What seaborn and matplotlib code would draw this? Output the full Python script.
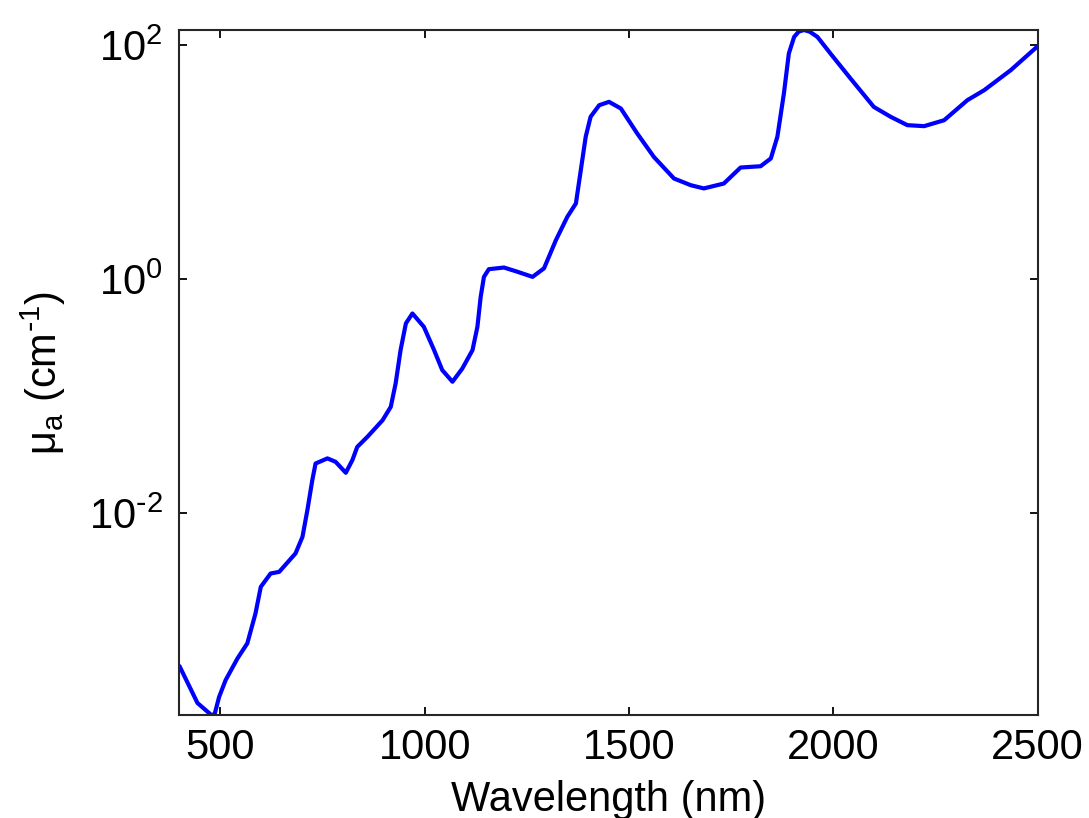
import numpy as np
import pandas as pd
import matplotlib
matplotlib.use("Agg")
import matplotlib.pyplot as plt
import seaborn as sns

# Water absorption coefficient
wavelength_nm = [400, 444, 478, 486, 497, 513, 542, 566, 586, 599, 623, 644, 684, 701,
                 713, 725, 733, 762, 782, 807, 823, 835, 860, 897, 917, 929, 941, 954,
                 970, 998, 1023, 1043, 1068, 1092, 1117, 1129, 1137, 1145, 1157, 1194,
                 1227, 1264, 1292, 1321, 1349, 1370, 1382, 1394, 1406, 1427, 1451, 1480,
                 1520, 1561, 1610, 1651, 1683, 1732, 1773, 1822, 1847, 1863, 1879, 1891,
                 1904, 1915, 1928, 1942, 1961, 1993, 2042, 2099, 2140, 2181, 2222, 2271,
                 2328, 2369, 2434, 2500]
mu_a = [4.90e-4, 2.37e-4, 1.87e-4, 1.90e-4, 2.67e-4, 3.72e-4, 5.70e-4, 7.66e-4, 1.38e-3,
        2.33e-3, 3.03e-3, 3.13e-3, 4.50e-3, 6.24e-3, 1.055e-2, 1.90e-2, 2.64e-2, 2.92e-2,
        2.73e-2, 2.20e-2, 2.82e-2, 3.66e-2, 4.47e-2, 6.19e-2, 8.05e-2, 0.128, 0.246, 0.416,
        0.506, 0.389, 0.246, 0.166, 0.132, 0.171, 0.246, 0.389, 0.701, 1.04, 1.21, 1.25,
        1.15, 1.04, 1.23, 2.14, 3.39, 4.41, 8.49, 16.4, 24.3, 30.5, 32.6, 28.6, 17.5, 11.0,
        7.21, 6.32, 5.93, 6.53, 8.95, 9.18, 10.7, 16.4, 38.5, 84.3,
        117, 129.8, 134, 129.8, 117, 84.3, 51.6, 29.5, 24.3, 20.6, 20.2, 22.7,
        33.7, 41.0, 60.8, 97.5]

x_ticks = [500, 1000, 1500, 2000, 2500]
y_ticks = [1e-2, 1e0, 1e2]
y_tick_labels = ["10$^{\\text{-}2}$", "10$^{0}$", "10$^{2}$"]

df = pd.DataFrame({"Wavelength": wavelength_nm, "mu_a": mu_a})

sns.set_style("ticks")
plt.rcParams["font.family"] = ["Liberation Sans", "DejaVu Sans"]
plt.rcParams["mathtext.default"] = "regular"
plt.rcParams["axes.unicode_minus"] = False
plt.rcParams["text.color"] = "black"
plt.rcParams["axes.labelcolor"] = "black"

fig = plt.figure(figsize=(10.89, 8.18), dpi=100)
ax = fig.add_axes([0.1648, 0.1259, 0.9529 - 0.1648, 0.9633 - 0.1259])

sns.lineplot(data=df, x="Wavelength", y="mu_a", ax=ax, color=(0, 0, 1),
             linewidth=3.0, estimator=None, solid_joinstyle="round",
             solid_capstyle="round")

ax.set_yscale("log")
ax.set_xlim(400, 2500)
ax.set_ylim(min(mu_a), max(mu_a))
ax.set_xticks(x_ticks)
ax.set_yticks(y_ticks)
ax.set_yticklabels(y_tick_labels)
ax.yaxis.set_minor_locator(matplotlib.ticker.NullLocator())
ax.xaxis.set_minor_locator(matplotlib.ticker.NullLocator())

ax.tick_params(axis="both", which="major", direction="in", length=6, width=1.3,
               top=True, right=True, labelsize=30, colors="black")
ax.tick_params(axis="x", pad=9)
ax.tick_params(axis="y", pad=12)
for s in ax.spines.values():
    s.set_visible(True)
    s.set_linewidth(1.5)
    s.set_color("#262626")

ax.set_xlabel("Wavelength (nm)", fontsize=30, color="black")
ax.set_ylabel("μ$_a$ (cm$^{\\text{-}1}$)", fontsize=30, color="black")
ax.xaxis.set_label_coords(0.5, -0.095)
ax.yaxis.set_label_coords(-0.13, 0.5)

fig.savefig("out.png", dpi=100, facecolor="white")
